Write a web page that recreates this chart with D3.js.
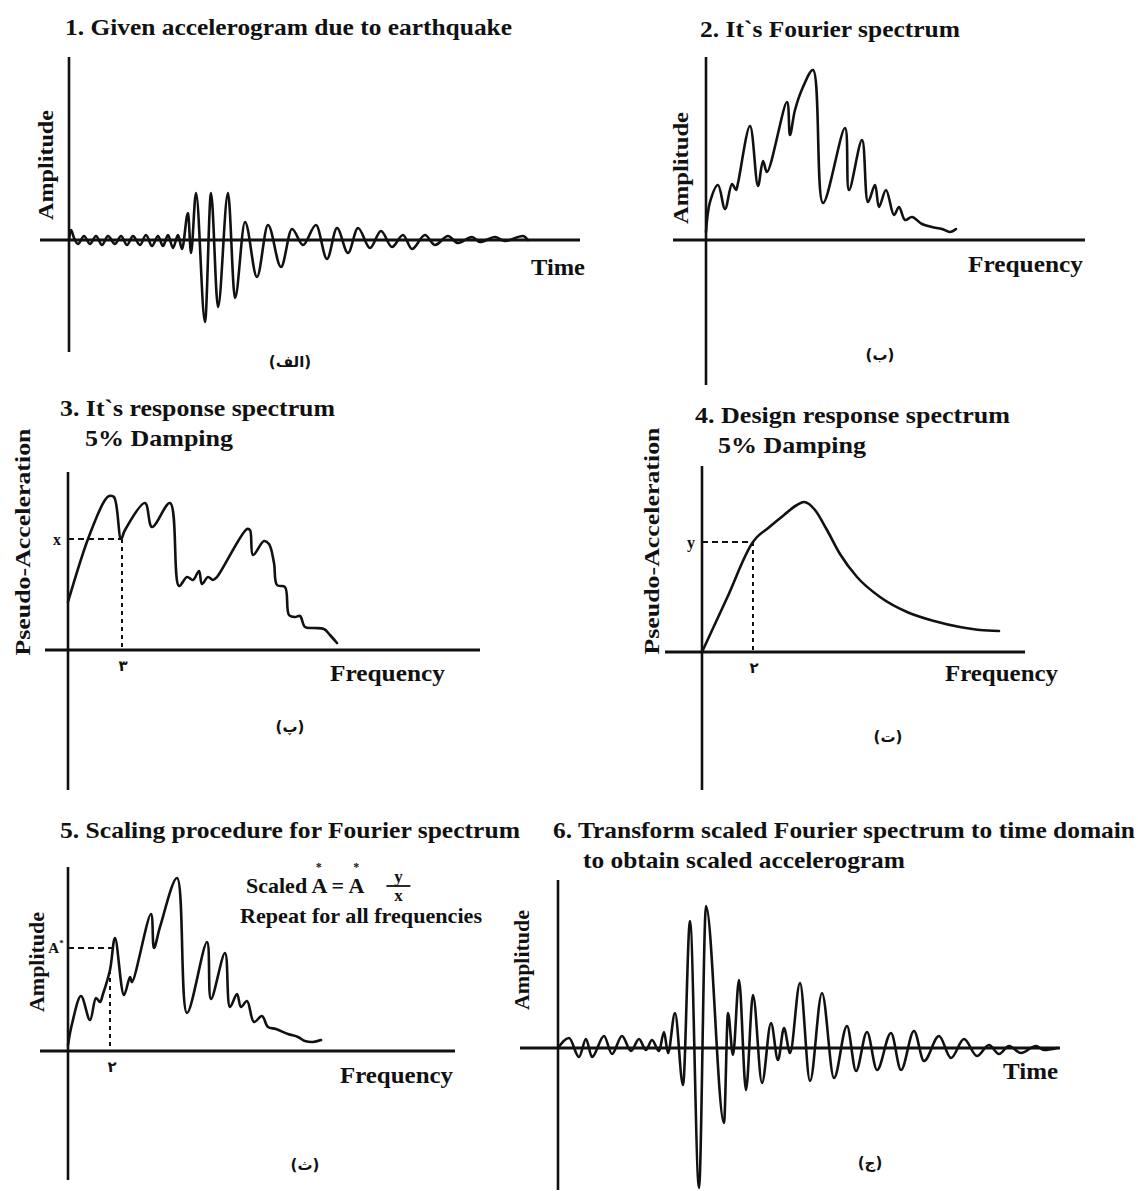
<!DOCTYPE html>
<html>
<head>
<meta charset="utf-8">
<script src="https://cdn.jsdelivr.net/npm/d3@7"></script>
<style>
  body { margin: 0; background: #fff; }
  svg text { font-family: "Liberation Serif", "Times New Roman", serif; font-weight: bold; fill: #111; }
  svg text.fa { font-family: "DejaVu Sans", sans-serif; font-weight: bold; font-size: 15px; }
</style>
</head>
<body>
<svg id="fig" width="1138" height="1191"></svg>
<script>
// ---- 1. Recorded accelerogram (time, amplitude) ----
const recTime = [0, 0.2, 0.5, 0.9, 1.5, 2.1, 2.7, 3.3, 3.9, 4.6, 5.2, 5.8, 6.4, 7.1, 7.7, 8.3, 8.9, 9.4, 9.9, 10.4,
  10.9, 11.3, 11.9, 12.2, 12.7, 13.6, 14.2, 14.9, 15.9, 16.6, 17.6, 18.8, 19.9, 21.2, 22.3, 23.4, 24.7, 25.8, 26.8,
  27.9, 28.9, 30.1, 31.2, 32.3, 33.4, 34.3, 35.6, 36.6, 37.9, 38.9, 40.3, 41.1, 42.6, 43.6, 45.4, 45.9];
const recAcc = [0, 1.0, 0.2, -0.4, 0.4, -0.4, 0.4, -0.5, 0.4, -0.4, 0.4, -0.5, 0.4, -0.5, 0.5, -0.6, 0.4, -0.6, 0.5, -0.8,
  0.5, -0.9, 2.7, -1.3, 4.7, -8.2, 4.7, -6.7, 4.7, -5.8, 1.8, -3.7, 1.5, -2.7, 1.1, -0.5, 1.5, -1.9, 1.2,
  -1.3, 1.2, -0.8, 0.9, -0.7, 0.5, -0.9, 0.5, -0.5, 0.4, -0.3, 0.3, -0.2, 0.3, -0.1, 0.4, 0];

// ---- 2. Fourier amplitude spectrum (frequency, amplitude) ----
const fourFreq = [0, 0.4, 1.2, 1.9, 2.6, 3.0, 3.2, 4.4, 5.2, 5.7, 6.1, 8.1, 8.4, 8.9, 9.7, 10.7, 11.7, 13.9, 14.3,
  15.6, 16.2, 16.9, 17.3, 18.0, 18.8, 19.3, 19.9, 20.6, 21.6, 22.6, 23.6, 24.4, 25.0];
const fourAmp = [0.8, 3.8, 5.5, 3.1, 5.6, 5.0, 5.7, 11.4, 5.4, 7.9, 6.8, 13.8, 10.5, 13.0, 15.3, 17.0, 3.7, 11.2, 5.0,
  10.0, 3.8, 5.5, 3.3, 5.0, 2.5, 3.3, 2.0, 2.3, 1.6, 1.3, 1.1, 0.8, 1.1];

// ---- 3. Response spectrum, 5% damping ----
const respFreq = [0, 2.0, 3.7, 4.1, 4.6, 5.3, 5.7, 7.7, 8.4, 10.2, 11.1, 11.9, 12.5, 13.1, 13.4, 14.0, 14.5, 14.9,
  17.9, 18.2, 18.5, 19.6, 20.1, 20.6, 20.9, 21.7, 22.1, 22.7, 23.2, 23.7, 24.6, 25.6, 26.2, 26.9];
const respPSA = [4.8, 11.1, 15.0, 15.4, 15.3, 11.1, 12.0, 14.7, 12.3, 14.7, 6.4, 7.3, 7.0, 7.9, 6.6, 7.3, 7.0, 7.3,
  12.1, 12.0, 9.5, 10.9, 10.6, 8.7, 6.5, 6.3, 3.5, 3.3, 3.4, 2.3, 2.2, 2.1, 1.5, 0.7];
const respMark = { freq: 5.4, value: 11.1 };   // x at frequency f

// ---- 4. Design response spectrum, 5% damping ----
const designFreq = [0, 2.5, 5.1, 5.5, 6.5, 8.2, 9.5, 10.2, 10.7, 11.3, 12.5, 13.8, 15.5, 17.8, 20.5, 23.2, 25.8, 27.8, 29.7];
const designPSA = [0, 5.4, 11.0, 11.5, 12.3, 13.7, 14.7, 15.0, 14.8, 14.2, 12.2, 9.8, 7.5, 5.5, 4.0, 3.1, 2.5, 2.2, 2.1];
const designMark = { freq: 5.1, value: 11.0 }; // y at frequency f

// ---- 5. Scaled Fourier spectrum ----
const scaledFreq = [0, 0.4, 1.3, 2.2, 2.8, 3.2, 3.5, 4.2, 4.7, 5.6, 6.2, 6.4, 8.3, 8.6, 9.2, 10.9, 11.9, 13.9, 14.3,
  15.7, 16.2, 16.9, 17.3, 17.9, 18.6, 19.4, 20.0, 20.8, 22.0, 23.0, 23.7, 24.5, 25.3];
const scaledAmp = [0.6, 2.7, 5.5, 3.1, 5.3, 4.9, 5.7, 8.1, 11.3, 5.6, 7.4, 6.9, 13.7, 10.3, 12.4, 17.3, 3.8, 10.9, 5.2,
  9.8, 4.4, 5.7, 4.4, 5.0, 2.9, 3.5, 2.4, 2.2, 1.7, 1.4, 1.0, 0.9, 1.1];
const scaledMark = { freq: 4.2, value: 10.3, top: 8.1 }; // A* at frequency f

// ---- 6. Scaled accelerogram ----
const simTime = [0, 1.1, 2.1, 2.8, 3.4, 4.6, 5.4, 6.4, 7.3, 8.1, 8.8, 9.4, 10.1, 10.6, 11.0, 11.7, 12.5, 13.2, 14.1,
  14.8, 16.6, 17.0, 17.5, 18.1, 18.8, 19.5, 20.4, 21.3, 22.0, 22.6, 23.2, 24.2, 25.2, 26.4, 27.6, 28.9, 29.8, 30.9,
  31.9, 33.3, 34.3, 35.6, 36.6, 38.1, 39.3, 40.6, 41.9, 43.1, 44.1, 45.1, 46.3, 47.8, 48.6, 49.9];
const simAcc = [0, 1.0, -0.9, 0.9, -0.9, 1.2, -0.6, 1.2, -0.3, 0.9, -0.2, 0.8, -0.3, 1.6, -0.5, 3.5, -3.7, 12.7, -14.0,
  14.2, -7.5, 3.5, -0.7, 6.8, -4.2, 5.3, -3.5, 2.5, -1.2, 2.0, -0.5, 6.5, -3.3, 5.5, -3.0, 2.2, -2.3, 1.6,
  -2.2, 1.5, -2.2, 1.7, -1.3, 1.2, -1.0, 0.9, -0.8, 0.3, -0.6, 0.2, -0.5, 0.2, -0.2, 0];

// ---- text ----
const panelTitles = [
  ["1. Given accelerogram due to earthquake"],
  ["2. It`s Fourier spectrum"],
  ["3. It`s response spectrum", "5% Damping"],
  ["4. Design response spectrum", "5% Damping"],
  ["5. Scaling procedure for Fourier spectrum"],
  ["6. Transform scaled Fourier spectrum to time domain", "to obtain scaled accelerogram"]
];
const yLabels = ["Amplitude", "Amplitude", "Pseudo-Acceleration", "Pseudo-Acceleration", "Amplitude", "Amplitude"];
const xLabels = ["Time", "Frequency", "Frequency", "Frequency", "Frequency", "Time"];
const subLetters = ["(الف)", "(ب)", "(پ)", "(ت)", "(ث)", "(ج)"];

// ---- layout ----
const layout = [
  { xDom: [-2.9, 51.1], xPx: [40, 580], yDom: [-11.2, 18.3], yPx: [352, 57],
    title: [[65, 35, 447]], yLab: [45, 165, 110, 22], xLab: [531, 275, 54], sub: [290, 362] },
  { xDom: [-3.3, 37.9], xPx: [673, 1085], yDom: [-14.5, 18.3], yPx: [385, 57],
    title: [[700, 37, 260]], yLab: [680, 168, 112, 22], xLab: [968, 272, 115], sub: [880, 355] },
  { xDom: [-2.3, 41.2], xPx: [45, 480], yDom: [-14, 17.8], yPx: [790, 472],
    title: [[60, 416, 275], [85, 446, 148]], yLab: [22, 542, 227, 22], xLab: [330, 681, 115], sub: [290, 727] },
  { xDom: [-3.7, 32.3], xPx: [665, 1025], yDom: [-13.8, 18.6], yPx: [790, 466],
    title: [[695, 423, 315], [718, 453, 148]], yLab: [651, 541, 227, 22], xLab: [945, 681, 113], sub: [888, 737] },
  { xDom: [-2.8, 38.7], xPx: [40, 455], yDom: [-12.9, 18.4], yPx: [1180, 867],
    title: [[60, 838, 460]], yLab: [37, 962, 100, 20], xLab: [340, 1083, 113], sub: [305, 1165] },
  { xDom: [-3.8, 50.2], xPx: [520, 1060], yDom: [-14.2, 16.8], yPx: [1190, 880],
    title: [[553, 838, 582], [583, 868, 322]], yLab: [522, 960, 100, 20], xLab: [1003, 1079, 55], sub: [870, 1163] }
];

const series = [
  { x: recTime, y: recAcc, curve: d3.curveMonotoneX },
  { x: fourFreq, y: fourAmp, curve: d3.curveCatmullRom.alpha(0.5) },
  { x: respFreq, y: respPSA, curve: d3.curveCatmullRom.alpha(0.5) },
  { x: designFreq, y: designPSA, curve: d3.curveMonotoneX },
  { x: scaledFreq, y: scaledAmp, curve: d3.curveCatmullRom.alpha(0.5) },
  { x: simTime, y: simAcc, curve: d3.curveMonotoneX }
];

const svg = d3.select("#fig");
svg.append("rect").attr("width", 1138).attr("height", 1191).attr("fill", "#fff");

const scales = [];

layout.forEach((L, i) => {
  const g = svg.append("g").attr("class", "panel");
  const x = d3.scaleLinear().domain(L.xDom).range(L.xPx);
  const y = d3.scaleLinear().domain(L.yDom).range(L.yPx);
  scales.push({ x, y, g });

  // titles
  panelTitles[i].forEach((line, k) => {
    const [tx, ty, tw] = L.title[k];
    g.append("text").attr("x", tx).attr("y", ty)
      .attr("font-size", 24)
      .attr("textLength", tw).attr("lengthAdjust", "spacingAndGlyphs")
      .text(line);
  });

  // axes through the origin
  g.append("line")
    .attr("x1", x(L.xDom[0])).attr("x2", x(L.xDom[1]))
    .attr("y1", y(0)).attr("y2", y(0))
    .attr("stroke", "#111").attr("stroke-width", 3);
  g.append("line")
    .attr("x1", x(0)).attr("x2", x(0))
    .attr("y1", y(L.yDom[0])).attr("y2", y(L.yDom[1]))
    .attr("stroke", "#111").attr("stroke-width", 2.6);

  // curve
  const s = series[i];
  const pts = s.x.map((v, j) => [v, s.y[j]]);
  g.append("path")
    .attr("d", d3.line().x(d => x(d[0])).y(d => y(d[1])).curve(s.curve)(pts))
    .attr("fill", "none").attr("stroke", "#111").attr("stroke-width", 2.6)
    .attr("stroke-linejoin", "round").attr("stroke-linecap", "round");

  // axis titles
  const [lx, ly, llen, lsize] = L.yLab;
  g.append("text")
    .attr("transform", `translate(${lx},${ly}) rotate(-90)`)
    .attr("text-anchor", "middle").attr("dominant-baseline", "central")
    .attr("font-size", lsize)
    .attr("textLength", llen).attr("lengthAdjust", "spacingAndGlyphs")
    .text(yLabels[i]);
  const [fx, fy, flen] = L.xLab;
  g.append("text").attr("x", fx).attr("y", fy)
    .attr("font-size", 24)
    .attr("textLength", flen).attr("lengthAdjust", "spacingAndGlyphs")
    .text(xLabels[i]);

  // sub-figure letter
  g.append("text").attr("class", "fa")
    .attr("x", L.sub[0]).attr("y", L.sub[1])
    .attr("text-anchor", "middle").attr("dominant-baseline", "central")
    .text(subLetters[i]);
});

// dashed read-off guides
function guide(i, mark, label, digit) {
  const { x, y, g } = scales[i];
  g.append("line")
    .attr("x1", x(0)).attr("x2", x(mark.freq))
    .attr("y1", y(mark.value)).attr("y2", y(mark.value))
    .attr("stroke", "#111").attr("stroke-width", 2).attr("stroke-dasharray", "6,4");
  g.append("line")
    .attr("x1", x(mark.freq)).attr("x2", x(mark.freq))
    .attr("y1", y(mark.value)).attr("y2", y(0))
    .attr("stroke", "#111").attr("stroke-width", 2).attr("stroke-dasharray", "4,4");
  g.append("text")
    .attr("x", x(0) - 11).attr("y", y(mark.value))
    .attr("text-anchor", "middle").attr("dominant-baseline", "central")
    .attr("font-size", 16).text(label);
  g.append("text").attr("class", "fa")
    .attr("x", x(mark.freq) + 1).attr("y", y(0) + 16)
    .attr("text-anchor", "middle").attr("dominant-baseline", "central")
    .attr("font-size", 14).text(digit);
}
guide(2, respMark, "x", "۳");
guide(3, designMark, "y", "۲");
{
  // A* reference level in panel 5
  const { x, y, g } = scales[4];
  g.append("line")
    .attr("x1", x(0)).attr("x2", x(scaledMark.freq + 0.3))
    .attr("y1", y(scaledMark.value)).attr("y2", y(scaledMark.value))
    .attr("stroke", "#111").attr("stroke-width", 2).attr("stroke-dasharray", "6,4");
  g.append("line")
    .attr("x1", x(scaledMark.freq)).attr("x2", x(scaledMark.freq))
    .attr("y1", y(scaledMark.top)).attr("y2", y(0))
    .attr("stroke", "#111").attr("stroke-width", 2).attr("stroke-dasharray", "4,4");
  const lab = g.append("text")
    .attr("x", x(0) - 12).attr("y", y(scaledMark.value) + 5)
    .attr("text-anchor", "middle").attr("font-size", 15);
  lab.append("tspan").text("A");
  lab.append("tspan").attr("dy", -7).attr("font-size", 9).text("*");
  g.append("text").attr("class", "fa")
    .attr("x", x(scaledMark.freq) + 2).attr("y", y(0) + 16)
    .attr("text-anchor", "middle").attr("dominant-baseline", "central")
    .attr("font-size", 14).text("۲");
}

// scaling formula in panel 5
{
  const g = scales[4].g;
  const base = 893;
  const fs = 22;
  const t = g.append("text").attr("x", 246).attr("y", base).attr("font-size", fs)
    .text("Scaled A = A");
  const node = t.node();
  // asterisks centred above both A glyphs
  [7, 11].forEach(ci => {
    const ext = node.getExtentOfChar(ci);
    g.append("text")
      .attr("x", ext.x + ext.width / 2).attr("y", base - 22)
      .attr("text-anchor", "middle").attr("font-size", 12).text("*");
  });
  const bb = node.getBBox();
  const fx0 = bb.x + bb.width + 22, fx1 = fx0 + 24;
  g.append("line").attr("x1", fx0).attr("x2", fx1)
    .attr("y1", base - 7).attr("y2", base - 7)
    .attr("stroke", "#111").attr("stroke-width", 1.8);
  g.append("text").attr("x", (fx0 + fx1) / 2).attr("y", base - 11)
    .attr("text-anchor", "middle").attr("font-size", 17).text("y");
  g.append("text").attr("x", (fx0 + fx1) / 2).attr("y", base + 8)
    .attr("text-anchor", "middle").attr("font-size", 17).text("x");
  g.append("text").attr("x", 240).attr("y", 923).attr("font-size", 22)
    .attr("textLength", 242).attr("lengthAdjust", "spacingAndGlyphs")
    .text("Repeat for all frequencies");
}
</script>
</body>
</html>
